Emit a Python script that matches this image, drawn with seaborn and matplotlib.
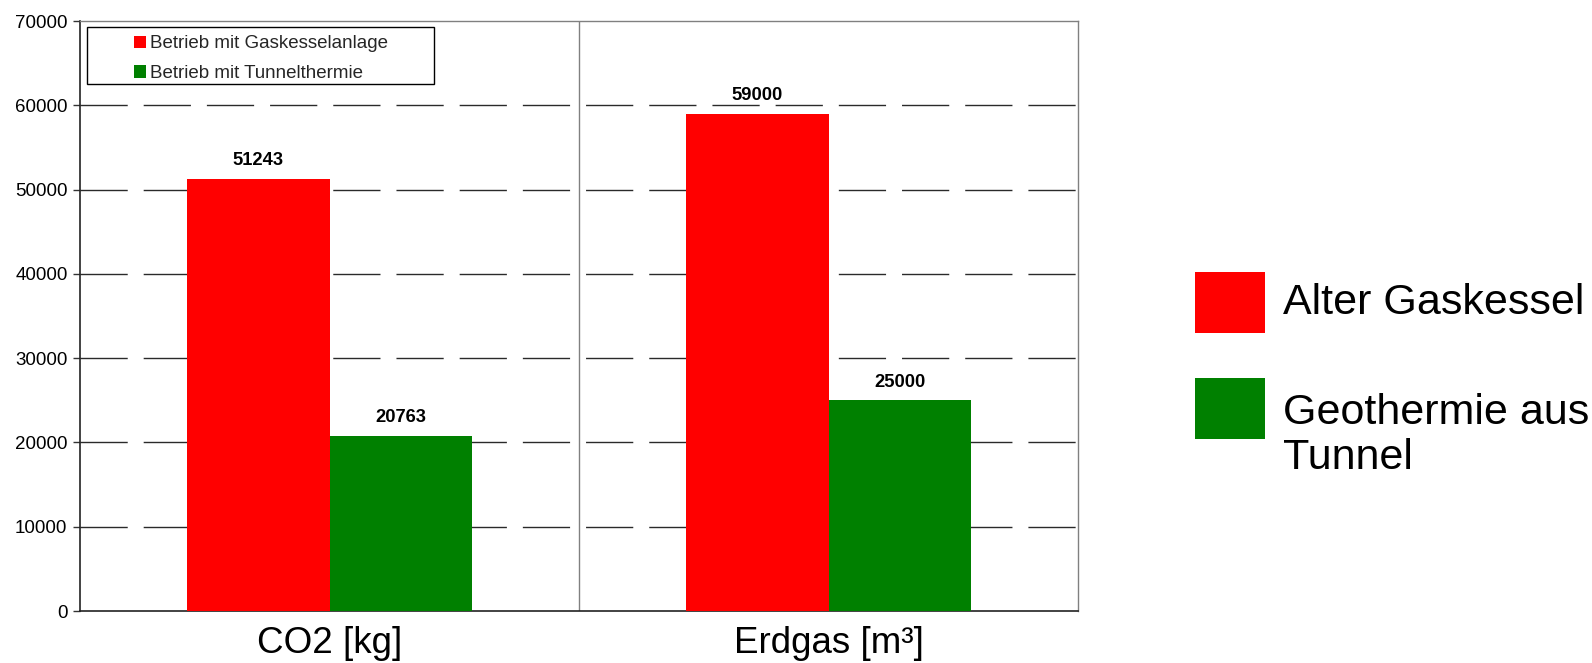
import matplotlib
matplotlib.use("Agg")
import matplotlib.pyplot as plt
from matplotlib.patches import Patch, Rectangle
import seaborn as sns
import pandas as pd

# Values per category
categories = ["CO2 [kg]", "Erdgas [m³]"]
gas_boiler = [51243, 59000]
tunnel_thermal = [20763, 25000]

# Series names
series_inner = ["Betrieb mit Gaskesselanlage", "Betrieb mit Tunnelthermie"]
series_outer = ["Alter Gaskessel", "Geothermie aus\nTunnel"]
colors = ["#FF0000", "#008000"]

y_ticks = [0, 10000, 20000, 30000, 40000, 50000, 60000, 70000]

df = pd.DataFrame({
    "Kategorie": categories * 2,
    "Wert": gas_boiler + tunnel_thermal,
    "Betrieb": [series_inner[0]] * len(categories) + [series_inner[1]] * len(categories),
})

sns.set_style("white")
plt.rcParams["font.family"] = ["Liberation Sans", "DejaVu Sans"]

fig = plt.figure(figsize=(15.92, 6.63), dpi=100)
ax = fig.add_axes([80 / 1592, 1 - 611 / 663, 998 / 1592, 590 / 663])

sns.barplot(data=df, x="Kategorie", y="Wert", hue="Betrieb",
            order=categories, hue_order=series_inner,
            palette=dict(zip(series_inner, colors)),
            width=0.57, saturation=1, legend=False, ax=ax, zorder=3)
for bar in ax.patches:
    bar.set_edgecolor("none")

# Value labels above bars
for cont in ax.containers:
    ax.bar_label(cont, labels=[f"{v:.0f}" for v in cont.datavalues],
                 padding=7, fontsize=13.2, fontweight="bold", color="black")

ax.set_xlim(-0.5, len(categories) - 0.5)
ax.set_ylim(y_ticks[0], y_ticks[-1])
ax.set_yticks(y_ticks)
ax.set_yticklabels([str(t) for t in y_ticks], fontsize=13.5, color="black")
ax.set_xlabel("")
ax.set_ylabel("")

# Category labels centered, tick marks at category boundaries
ax.set_xticks(range(len(categories)))
ax.set_xticklabels(categories, fontsize=26.5, color="black")
ax.set_xticks([i - 0.5 for i in range(len(categories) + 1)], minor=True)
ax.tick_params(axis="x", which="major", length=0, pad=11)
ax.tick_params(axis="x", which="minor", length=6, width=1, color="#333333", direction="out")
ax.tick_params(axis="y", which="major", length=5, width=1, color="#333333",
               direction="out", pad=4, left=True)

# Dashed horizontal gridlines
for t in y_ticks[1:-1]:
    ax.axhline(t, color="#2a2a2a", lw=1, ls=(0, (34, 11.5)), zorder=1)
# Category separator
for i in range(1, len(categories)):
    ax.axvline(i - 0.5, color="#808080", lw=1, zorder=1)

for side in ["left", "bottom"]:
    ax.spines[side].set_color("#222222")
    ax.spines[side].set_linewidth(1.2)
for side in ["top", "right"]:
    ax.spines[side].set_color("#808080")
    ax.spines[side].set_linewidth(1)

# Inner legend with a wide frame
frame = Rectangle((0.007, 0.893), 0.348, 0.097, transform=ax.transAxes,
                  facecolor="white", edgecolor="black", lw=1, zorder=5)
ax.add_patch(frame)
handles = [Patch(facecolor=c, edgecolor="none") for c in colors]
leg = ax.legend(handles, series_inner, loc="center", bbox_to_anchor=(0.181, 0.936),
                frameon=False, fontsize=13.5, handlelength=0.65, handleheight=0.65,
                handletextpad=0.2, labelspacing=0.68, borderpad=0)
leg.set_zorder(6)

# Outer legend on the right (text anchored at the baseline of its last line)
patch_y = [1 - 333 / 663, 1 - 439 / 663]
text_y = [1 - 314 / 663, 1 - 469 / 663]
for c, label, py, ty in zip(colors, series_outer, patch_y, text_y):
    fig.add_artist(Rectangle((1195 / 1592, py), 70 / 1592, 61 / 663,
                             transform=fig.transFigure, facecolor=c, edgecolor="none"))
    fig.text(1283 / 1592, ty, label, fontsize=31, va="baseline", ha="left",
             color="black", linespacing=1.15)

fig.savefig("out.png", dpi=100)
